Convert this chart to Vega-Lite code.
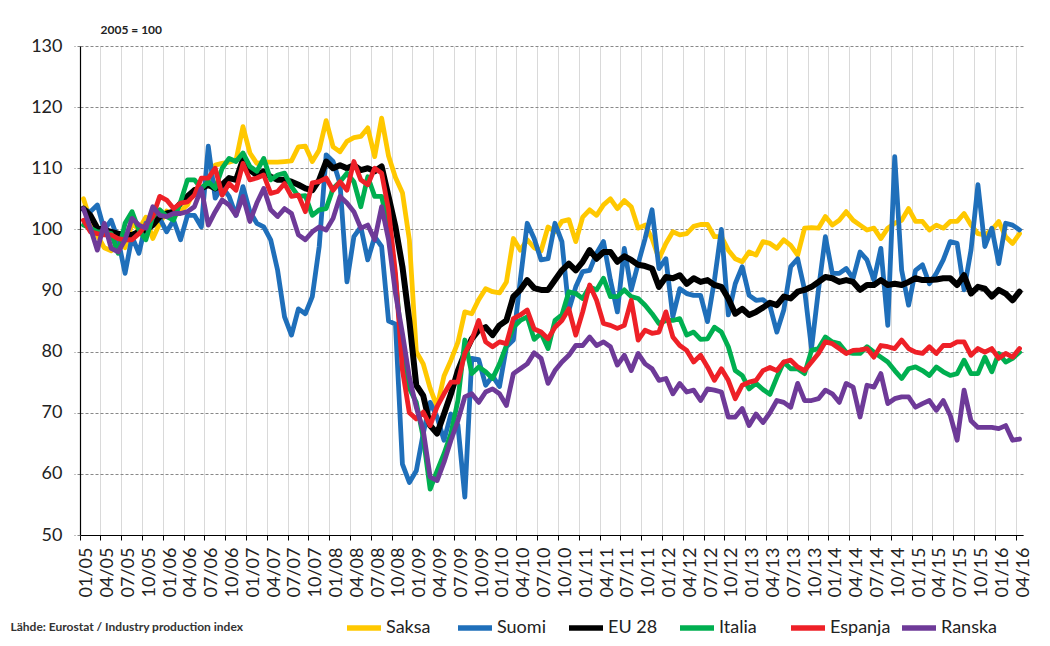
{
"$schema": "https://vega.github.io/schema/vega-lite/v6.json",
"width": 943,
"height": 489,
"autosize": {"type": "none"},
"padding": {"left": 80, "top": 46, "right": 27, "bottom": 111},
"background": "white",
"config": {"view": {"stroke": null}, "font": "Lato"},
"data": {"values": [
{"m":"01/05","Saksa":105,"Suomi":103.2,"EU 28":103.4,"Italia":100.7,"Espanja":101.5,"Ranska":103.4},
{"m":"02/05","Saksa":101.5,"Suomi":102.9,"EU 28":102.3,"Italia":100.2,"Espanja":99.6,"Ranska":100.2},
{"m":"03/05","Saksa":99,"Suomi":104,"EU 28":100.2,"Italia":99.6,"Espanja":99.3,"Ranska":96.6},
{"m":"04/05","Saksa":97,"Suomi":99.9,"EU 28":99.9,"Italia":99.6,"Espanja":99.1,"Ranska":101},
{"m":"05/05","Saksa":96.5,"Suomi":101.5,"EU 28":99.6,"Italia":99.3,"Espanja":99.1,"Ranska":96.9},
{"m":"06/05","Saksa":98,"Suomi":98.3,"EU 28":99.3,"Italia":96.1,"Espanja":98.5,"Ranska":96.3},
{"m":"07/05","Saksa":97,"Suomi":92.8,"EU 28":99.1,"Italia":101,"Espanja":98.3,"Ranska":98.3},
{"m":"08/05","Saksa":101,"Suomi":98.8,"EU 28":99.1,"Italia":102.9,"Espanja":98.3,"Ranska":101.8},
{"m":"09/05","Saksa":100,"Suomi":96.1,"EU 28":99.6,"Italia":99.9,"Espanja":99.3,"Ranska":100.7},
{"m":"10/05","Saksa":102,"Suomi":101,"EU 28":99.9,"Italia":98.3,"Espanja":100.7,"Ranska":100.2},
{"m":"11/05","Saksa":98.5,"Suomi":101,"EU 28":100.7,"Italia":102.1,"Espanja":102.1,"Ranska":103.7},
{"m":"12/05","Saksa":101,"Suomi":101.8,"EU 28":102.1,"Italia":103.2,"Espanja":105.4,"Ranska":102.3},
{"m":"01/06","Saksa":103,"Suomi":99.6,"EU 28":102.6,"Italia":102.1,"Espanja":104.8,"Ranska":102.1},
{"m":"02/06","Saksa":102,"Suomi":101.5,"EU 28":102.9,"Italia":101.5,"Espanja":103.4,"Ranska":102.6},
{"m":"03/06","Saksa":103,"Suomi":98.3,"EU 28":104.3,"Italia":104.5,"Espanja":104.3,"Ranska":102.6},
{"m":"04/06","Saksa":104,"Suomi":102.3,"EU 28":105.4,"Italia":108.1,"Espanja":104.5,"Ranska":102.9},
{"m":"05/06","Saksa":106.5,"Suomi":102.3,"EU 28":106.4,"Italia":108.1,"Espanja":105.6,"Ranska":103.7},
{"m":"06/06","Saksa":106,"Suomi":100.4,"EU 28":106.7,"Italia":106.7,"Espanja":108.4,"Ranska":106.7},
{"m":"07/06","Saksa":108,"Suomi":113.6,"EU 28":107.3,"Italia":107.8,"Espanja":108.4,"Ranska":100.7},
{"m":"08/06","Saksa":110.5,"Suomi":105.1,"EU 28":106.7,"Italia":106.7,"Espanja":110,"Ranska":102.9},
{"m":"09/06","Saksa":110.8,"Suomi":107,"EU 28":107.3,"Italia":110,"Espanja":105.6,"Ranska":104.8},
{"m":"10/06","Saksa":111,"Suomi":105.4,"EU 28":108.4,"Italia":111.6,"Espanja":107.5,"Ranska":104},
{"m":"11/06","Saksa":111.3,"Suomi":102.3,"EU 28":108.1,"Italia":111.1,"Espanja":106.4,"Ranska":102.3},
{"m":"12/06","Saksa":116.8,"Suomi":107,"EU 28":111.4,"Italia":112.5,"Espanja":110.8,"Ranska":105.4},
{"m":"01/07","Saksa":112.5,"Suomi":102.9,"EU 28":109.7,"Italia":110.3,"Espanja":108.1,"Ranska":101.3},
{"m":"02/07","Saksa":110.8,"Suomi":101,"EU 28":108.9,"Italia":109.5,"Espanja":108.4,"Ranska":104.3},
{"m":"03/07","Saksa":111,"Suomi":100.4,"EU 28":109.5,"Italia":111.6,"Espanja":108.9,"Ranska":106.7},
{"m":"04/07","Saksa":111,"Suomi":98.3,"EU 28":108.6,"Italia":108.1,"Espanja":105.9,"Ranska":103.2},
{"m":"05/07","Saksa":111,"Suomi":93.3,"EU 28":108.1,"Italia":108.9,"Espanja":106.2,"Ranska":102.1},
{"m":"06/07","Saksa":111.1,"Suomi":85.7,"EU 28":108.1,"Italia":109.2,"Espanja":107.5,"Ranska":103.4},
{"m":"07/07","Saksa":111.2,"Suomi":82.7,"EU 28":107.8,"Italia":107,"Espanja":105.4,"Ranska":102.6},
{"m":"08/07","Saksa":113.5,"Suomi":87,"EU 28":107.3,"Italia":105.4,"Espanja":105.6,"Ranska":99.1},
{"m":"09/07","Saksa":113.6,"Suomi":86.2,"EU 28":106.7,"Italia":105.5,"Espanja":102.9,"Ranska":98.3},
{"m":"10/07","Saksa":111.1,"Suomi":89,"EU 28":106.4,"Italia":102.3,"Espanja":107.6,"Ranska":99.6},
{"m":"11/07","Saksa":113,"Suomi":97.2,"EU 28":108.1,"Italia":103.2,"Espanja":107.8,"Ranska":100.4},
{"m":"12/07","Saksa":117.8,"Suomi":112.2,"EU 28":111.1,"Italia":103.4,"Espanja":108.4,"Ranska":99.9},
{"m":"01/08","Saksa":113.5,"Suomi":111.1,"EU 28":110,"Italia":106.7,"Espanja":106.4,"Ranska":101.8},
{"m":"02/08","Saksa":112.7,"Suomi":107.5,"EU 28":110.5,"Italia":107.8,"Espanja":107.8,"Ranska":105.4},
{"m":"03/08","Saksa":114.4,"Suomi":91.4,"EU 28":110,"Italia":109.2,"Espanja":106.4,"Ranska":104.3},
{"m":"04/08","Saksa":115,"Suomi":98.8,"EU 28":110.5,"Italia":107.8,"Espanja":111.1,"Ranska":102.9},
{"m":"05/08","Saksa":115.2,"Suomi":100.4,"EU 28":109.7,"Italia":103.7,"Espanja":108.1,"Ranska":100.2},
{"m":"06/08","Saksa":116.6,"Suomi":95,"EU 28":110,"Italia":108.6,"Espanja":107.3,"Ranska":100.7},
{"m":"07/08","Saksa":111.9,"Suomi":98.8,"EU 28":109.5,"Italia":105.4,"Espanja":110,"Ranska":98.3},
{"m":"08/08","Saksa":118.2,"Suomi":97.2,"EU 28":110.3,"Italia":105.4,"Espanja":109.2,"Ranska":103.7},
{"m":"09/08","Saksa":112,"Suomi":85,"EU 28":105.4,"Italia":100,"Espanja":103.2,"Ranska":98.3},
{"m":"10/08","Saksa":108.5,"Suomi":84.5,"EU 28":100.4,"Italia":92,"Espanja":92.8,"Ranska":89.5},
{"m":"11/08","Saksa":106,"Suomi":61.6,"EU 28":93.9,"Italia":80,"Espanja":77,"Ranska":83},
{"m":"12/08","Saksa":98.3,"Suomi":58.6,"EU 28":85,"Italia":74,"Espanja":70,"Ranska":75.8},
{"m":"01/09","Saksa":80,"Suomi":60.5,"EU 28":74.5,"Italia":71.7,"Espanja":69,"Ranska":70.9},
{"m":"02/09","Saksa":78,"Suomi":66.6,"EU 28":72.8,"Italia":66,"Espanja":70.1,"Ranska":67.1},
{"m":"03/09","Saksa":74,"Suomi":71.7,"EU 28":67.9,"Italia":57.5,"Espanja":67.9,"Ranska":59.5},
{"m":"04/09","Saksa":71,"Suomi":69.3,"EU 28":66.6,"Italia":60.5,"Espanja":71,"Ranska":58.9},
{"m":"05/09","Saksa":76,"Suomi":65.5,"EU 28":69.8,"Italia":63.3,"Espanja":73.1,"Ranska":61.9},
{"m":"06/09","Saksa":78.6,"Suomi":69.8,"EU 28":73.1,"Italia":66.6,"Espanja":75,"Ranska":65.5},
{"m":"07/09","Saksa":81.5,"Suomi":68,"EU 28":76.9,"Italia":72,"Espanja":75,"Ranska":68.7},
{"m":"08/09","Saksa":86.5,"Suomi":56.2,"EU 28":79.7,"Italia":81.9,"Espanja":79.7,"Ranska":72.6},
{"m":"09/09","Saksa":86.2,"Suomi":78.9,"EU 28":82.1,"Italia":76.4,"Espanja":81.9,"Ranska":73.1},
{"m":"10/09","Saksa":88.5,"Suomi":78.7,"EU 28":83.5,"Italia":77.5,"Espanja":85.1,"Ranska":71.7},
{"m":"11/09","Saksa":90.3,"Suomi":74.5,"EU 28":84,"Italia":76.7,"Espanja":81.6,"Ranska":73.4},
{"m":"12/09","Saksa":89.8,"Suomi":76,"EU 28":82.7,"Italia":75.6,"Espanja":80.8,"Ranska":73.9},
{"m":"01/10","Saksa":89.6,"Suomi":74.3,"EU 28":84.3,"Italia":78,"Espanja":81.6,"Ranska":73.1},
{"m":"02/10","Saksa":91.4,"Suomi":80.8,"EU 28":85.1,"Italia":81,"Espanja":81.3,"Ranska":71.2},
{"m":"03/10","Saksa":98.5,"Suomi":81.9,"EU 28":89,"Italia":84,"Espanja":85.4,"Ranska":76.4},
{"m":"04/10","Saksa":96.6,"Suomi":91.7,"EU 28":90.1,"Italia":85.1,"Espanja":86,"Ranska":77.2},
{"m":"05/10","Saksa":98.3,"Suomi":101,"EU 28":91.7,"Italia":85.7,"Espanja":86.8,"Ranska":78},
{"m":"06/10","Saksa":97,"Suomi":98.5,"EU 28":90.4,"Italia":82,"Espanja":83.7,"Ranska":79.8},
{"m":"07/10","Saksa":96.5,"Suomi":95,"EU 28":90.1,"Italia":83,"Espanja":83.2,"Ranska":78.9},
{"m":"08/10","Saksa":100.4,"Suomi":95.2,"EU 28":90.1,"Italia":80.5,"Espanja":82.1,"Ranska":74.8},
{"m":"09/10","Saksa":99.6,"Suomi":101,"EU 28":91.7,"Italia":85.1,"Espanja":84,"Ranska":76.9},
{"m":"10/10","Saksa":101.3,"Suomi":98,"EU 28":93.3,"Italia":86,"Espanja":85.1,"Ranska":78.3},
{"m":"11/10","Saksa":101.6,"Suomi":86.8,"EU 28":94.4,"Italia":89.8,"Espanja":87,"Ranska":79.4},
{"m":"12/10","Saksa":98,"Suomi":90.6,"EU 28":93.3,"Italia":89.5,"Espanja":82.7,"Ranska":81},
{"m":"01/11","Saksa":102,"Suomi":93.1,"EU 28":94.7,"Italia":88.7,"Espanja":86.5,"Ranska":81},
{"m":"02/11","Saksa":103.2,"Suomi":93.3,"EU 28":96.6,"Italia":90.6,"Espanja":90.9,"Ranska":82.4},
{"m":"03/11","Saksa":102.3,"Suomi":96.1,"EU 28":95.2,"Italia":90.1,"Espanja":88.4,"Ranska":81},
{"m":"04/11","Saksa":104,"Suomi":98,"EU 28":96.3,"Italia":92,"Espanja":84.6,"Ranska":81.6},
{"m":"05/11","Saksa":105,"Suomi":91.7,"EU 28":96.3,"Italia":89,"Espanja":84.3,"Ranska":80.8},
{"m":"06/11","Saksa":103.4,"Suomi":86.5,"EU 28":94.7,"Italia":89,"Espanja":83.8,"Ranska":77.8},
{"m":"07/11","Saksa":104.7,"Suomi":96.9,"EU 28":95.6,"Italia":90.1,"Espanja":84.3,"Ranska":79.4},
{"m":"08/11","Saksa":103.7,"Suomi":90.1,"EU 28":95,"Italia":89,"Espanja":88.4,"Ranska":76.9},
{"m":"09/11","Saksa":100.2,"Suomi":94.4,"EU 28":94.2,"Italia":88.7,"Espanja":81.9,"Ranska":79.7},
{"m":"10/11","Saksa":100.7,"Suomi":98.5,"EU 28":94,"Italia":87.6,"Espanja":83.5,"Ranska":78},
{"m":"11/11","Saksa":98.5,"Suomi":103.2,"EU 28":93.6,"Italia":86.2,"Espanja":83,"Ranska":77.2},
{"m":"12/11","Saksa":95.2,"Suomi":93.6,"EU 28":90.6,"Italia":84.6,"Espanja":83.2,"Ranska":75.3},
{"m":"01/12","Saksa":97.7,"Suomi":95.2,"EU 28":92.2,"Italia":85.1,"Espanja":86.5,"Ranska":75.6},
{"m":"02/12","Saksa":99.6,"Suomi":85.7,"EU 28":92,"Italia":85.1,"Espanja":82.4,"Ranska":73.1},
{"m":"03/12","Saksa":99.1,"Suomi":90.3,"EU 28":92.5,"Italia":85.4,"Espanja":81,"Ranska":74.8},
{"m":"04/12","Saksa":99.3,"Suomi":89.5,"EU 28":91.1,"Italia":82.7,"Espanja":80.2,"Ranska":73.4},
{"m":"05/12","Saksa":100.5,"Suomi":89.2,"EU 28":92,"Italia":83.2,"Espanja":78.3,"Ranska":73.7},
{"m":"06/12","Saksa":100.8,"Suomi":89.2,"EU 28":91.4,"Italia":82,"Espanja":79.4,"Ranska":72},
{"m":"07/12","Saksa":100.8,"Suomi":84.9,"EU 28":91.7,"Italia":82.1,"Espanja":77.5,"Ranska":73.9},
{"m":"08/12","Saksa":98.8,"Suomi":91.7,"EU 28":90.9,"Italia":84,"Espanja":75.3,"Ranska":73.7},
{"m":"09/12","Saksa":98.8,"Suomi":100,"EU 28":90.6,"Italia":83.2,"Espanja":77.2,"Ranska":73.4},
{"m":"10/12","Saksa":96.6,"Suomi":86,"EU 28":88.7,"Italia":80.8,"Espanja":75.3,"Ranska":69.3},
{"m":"11/12","Saksa":95.2,"Suomi":91.1,"EU 28":86.2,"Italia":76.9,"Espanja":72.3,"Ranska":69.3},
{"m":"12/12","Saksa":94.7,"Suomi":93.9,"EU 28":87,"Italia":76.1,"Espanja":74.5,"Ranska":70.7},
{"m":"01/13","Saksa":96.3,"Suomi":89.2,"EU 28":86,"Italia":73.9,"Espanja":75,"Ranska":67.9},
{"m":"02/13","Saksa":95.8,"Suomi":88.4,"EU 28":86.5,"Italia":74.8,"Espanja":75.3,"Ranska":69.8},
{"m":"03/13","Saksa":98,"Suomi":88.5,"EU 28":87.2,"Italia":73.8,"Espanja":76.9,"Ranska":68.4},
{"m":"04/13","Saksa":97.7,"Suomi":87.5,"EU 28":88,"Italia":73,"Espanja":77.4,"Ranska":70},
{"m":"05/13","Saksa":96.9,"Suomi":83.2,"EU 28":87.6,"Italia":75.8,"Espanja":76.9,"Ranska":72},
{"m":"06/13","Saksa":98.3,"Suomi":86.8,"EU 28":89,"Italia":78.3,"Espanja":78.3,"Ranska":71.7},
{"m":"07/13","Saksa":97.4,"Suomi":93.9,"EU 28":88.7,"Italia":77.2,"Espanja":78.6,"Ranska":70.9},
{"m":"08/13","Saksa":95.8,"Suomi":95.2,"EU 28":89.8,"Italia":77.2,"Espanja":77.5,"Ranska":74.8},
{"m":"09/13","Saksa":100.2,"Suomi":90.1,"EU 28":90.1,"Italia":76.4,"Espanja":76.9,"Ranska":72},
{"m":"10/13","Saksa":100.3,"Suomi":80.5,"EU 28":90.6,"Italia":80.2,"Espanja":78.3,"Ranska":72},
{"m":"11/13","Saksa":100.2,"Suomi":90.1,"EU 28":91.4,"Italia":80.5,"Espanja":79.7,"Ranska":72.3},
{"m":"12/13","Saksa":102.1,"Suomi":98.8,"EU 28":92.2,"Italia":82.4,"Espanja":81.6,"Ranska":73.7},
{"m":"01/14","Saksa":100.7,"Suomi":92.8,"EU 28":92,"Italia":81.6,"Espanja":81.3,"Ranska":73.1},
{"m":"02/14","Saksa":101.5,"Suomi":92.8,"EU 28":91.4,"Italia":81.3,"Espanja":80.5,"Ranska":71.7},
{"m":"03/14","Saksa":102.9,"Suomi":93.6,"EU 28":91.7,"Italia":79.9,"Espanja":79.7,"Ranska":74.8},
{"m":"04/14","Saksa":101.5,"Suomi":92,"EU 28":91.4,"Italia":79.7,"Espanja":80.2,"Ranska":74.2},
{"m":"05/14","Saksa":100.7,"Suomi":96.3,"EU 28":90.1,"Italia":79.7,"Espanja":80.3,"Ranska":69.3},
{"m":"06/14","Saksa":99.9,"Suomi":95,"EU 28":90.9,"Italia":80.8,"Espanja":80.5,"Ranska":74.5},
{"m":"07/14","Saksa":100.2,"Suomi":91.7,"EU 28":90.9,"Italia":79.9,"Espanja":79.1,"Ranska":74.2},
{"m":"08/14","Saksa":98.5,"Suomi":96.9,"EU 28":91.7,"Italia":79.1,"Espanja":81,"Ranska":76.4},
{"m":"09/14","Saksa":100.2,"Suomi":84.3,"EU 28":90.9,"Italia":78.3,"Espanja":80.8,"Ranska":71.5},
{"m":"10/14","Saksa":101,"Suomi":111.9,"EU 28":91.1,"Italia":76.9,"Espanja":80.5,"Ranska":72.3},
{"m":"11/14","Saksa":101.5,"Suomi":93.3,"EU 28":90.9,"Italia":75.6,"Espanja":81.9,"Ranska":72.6},
{"m":"12/14","Saksa":103.4,"Suomi":87.6,"EU 28":91.4,"Italia":77.2,"Espanja":80.5,"Ranska":72.6},
{"m":"01/15","Saksa":101.3,"Suomi":93.3,"EU 28":92,"Italia":77.5,"Espanja":79.9,"Ranska":70.9},
{"m":"02/15","Saksa":101.3,"Suomi":94.2,"EU 28":91.7,"Italia":76.9,"Espanja":79.7,"Ranska":71.5},
{"m":"03/15","Saksa":99.9,"Suomi":91.1,"EU 28":91.7,"Italia":76.1,"Espanja":80.8,"Ranska":72},
{"m":"04/15","Saksa":100.7,"Suomi":92.8,"EU 28":91.8,"Italia":77.5,"Espanja":79.7,"Ranska":70.4},
{"m":"05/15","Saksa":100.2,"Suomi":95,"EU 28":92,"Italia":76.7,"Espanja":81,"Ranska":72},
{"m":"06/15","Saksa":101.3,"Suomi":98,"EU 28":92,"Italia":76.1,"Espanja":81,"Ranska":69.6},
{"m":"07/15","Saksa":101.3,"Suomi":97.7,"EU 28":90.9,"Italia":76.4,"Espanja":81.6,"Ranska":65.5},
{"m":"08/15","Saksa":102.6,"Suomi":90.1,"EU 28":92.5,"Italia":78.6,"Espanja":81.6,"Ranska":73.7},
{"m":"09/15","Saksa":100.7,"Suomi":96.6,"EU 28":89.5,"Italia":76.4,"Espanja":79.4,"Ranska":68.7},
{"m":"10/15","Saksa":99.3,"Suomi":107.3,"EU 28":90.6,"Italia":76.4,"Espanja":80.5,"Ranska":67.6},
{"m":"11/15","Saksa":99.1,"Suomi":97.2,"EU 28":90.3,"Italia":79.1,"Espanja":79.9,"Ranska":67.6},
{"m":"12/15","Saksa":99.9,"Suomi":100.2,"EU 28":89,"Italia":76.7,"Espanja":80.5,"Ranska":67.6},
{"m":"01/16","Saksa":101.3,"Suomi":94.4,"EU 28":90.1,"Italia":79.7,"Espanja":78.9,"Ranska":67.4},
{"m":"02/16","Saksa":98.8,"Suomi":101,"EU 28":89.5,"Italia":78.3,"Espanja":79.7,"Ranska":67.9},
{"m":"03/16","Saksa":97.7,"Suomi":100.7,"EU 28":88.4,"Italia":78.9,"Espanja":79.1,"Ranska":65.5},
{"m":"04/16","Saksa":99.3,"Suomi":99.9,"EU 28":89.8,"Italia":79.9,"Espanja":80.5,"Ranska":65.7}
]},
"transform": [{"fold": ["Saksa", "Suomi", "EU 28", "Italia", "Espanja", "Ranska"], "as": ["sarja", "arvo"]}],
"mark": {"type": "line", "strokeJoin": "round", "strokeCap": "round"},
"encoding": {
  "x": {
    "field": "m", "type": "ordinal", "sort": null,
    "scale": {"type": "band", "paddingInner": 0, "paddingOuter": 0},
    "axis": {
      "values": ["01/05","04/05","07/05","10/05","01/06","04/06","07/06","10/06","01/07","04/07","07/07","10/07","01/08","04/08","07/08","10/08","01/09","04/09","07/09","10/09","01/10","04/10","07/10","10/10","01/11","04/11","07/11","10/11","01/12","04/12","07/12","10/12","01/13","04/13","07/13","10/13","01/14","04/14","07/14","10/14","01/15","04/15","07/15","10/15","01/16","04/16"],
      "bandPosition": 0,
      "labelAngle": -90,
      "labelOffset": 4,
      "labelFontSize": 18,
      "labelFont": "Lato",
      "labelColor": "#222222",
      "labelPadding": 7,
      "labelOverlap": false,
      "tickSize": 5,
      "tickColor": "#000000",
      "domainColor": "#000000",
      "domainWidth": 1.2,
      "grid": true,
      "gridColor": "#d9d9d9",
      "gridWidth": 1,
      "title": "Lähde: Eurostat / Industry production index",
      "titleX": -70,
      "titleY": 91,
      "titleAlign": "left",
      "titleAnchor": null,
      "titleBaseline": "middle",
      "titleFont": "Lato",
      "titleFontSize": 12,
      "titleFontWeight": "bold",
      "titleColor": "#333333"
    }
  },
  "y": {
    "field": "arvo", "type": "quantitative",
    "scale": {"domain": [50, 130], "nice": false, "zero": false},
    "axis": {
      "values": [50, 60, 70, 80, 90, 100, 110, 120, 130],
      "labelFontSize": 18,
      "labelFont": "Lato",
      "labelColor": "#222222",
      "labelPadding": 12,
      "tickSize": 6,
      "tickColor": "#888888",
      "tickDash": [3, 2],
      "domainColor": "#000000",
      "domainWidth": 1.2,
      "grid": true,
      "gridColor": "#888888",
      "gridDash": [3, 2],
      "gridWidth": 1,
      "title": "2005 = 100",
      "titleAngle": 0,
      "titleX": 20,
      "titleY": -17,
      "titleAlign": "left",
      "titleAnchor": null,
      "titleBaseline": "middle",
      "titleFont": "Lato",
      "titleFontSize": 12,
      "titleFontWeight": "bold",
      "titleColor": "#222222"
    }
  },
  "color": {
    "field": "sarja", "type": "nominal",
    "scale": {"domain": ["Saksa", "Suomi", "EU 28", "Italia", "Espanja", "Ranska"],
              "range": ["#FFC800", "#1F6FBA", "#000000", "#00AF50", "#EE2027", "#6E3A98"]},
    "legend": {
      "orient": "none", "legendX": 264, "legendY": 562,
      "direction": "horizontal", "columns": 6, "gridAlign": "all", "title": null,
      "symbolType": "stroke", "symbolSize": 1156, "symbolStrokeWidth": 5.5,
      "labelFontSize": 18, "labelFont": "Lato", "labelColor": "#222222",
      "labelOffset": 2, "columnPadding": 0
    }
  },
  "strokeWidth": {
    "condition": {"test": "datum.sarja === 'EU 28'", "value": 6},
    "value": 4.8
  }
}
}
